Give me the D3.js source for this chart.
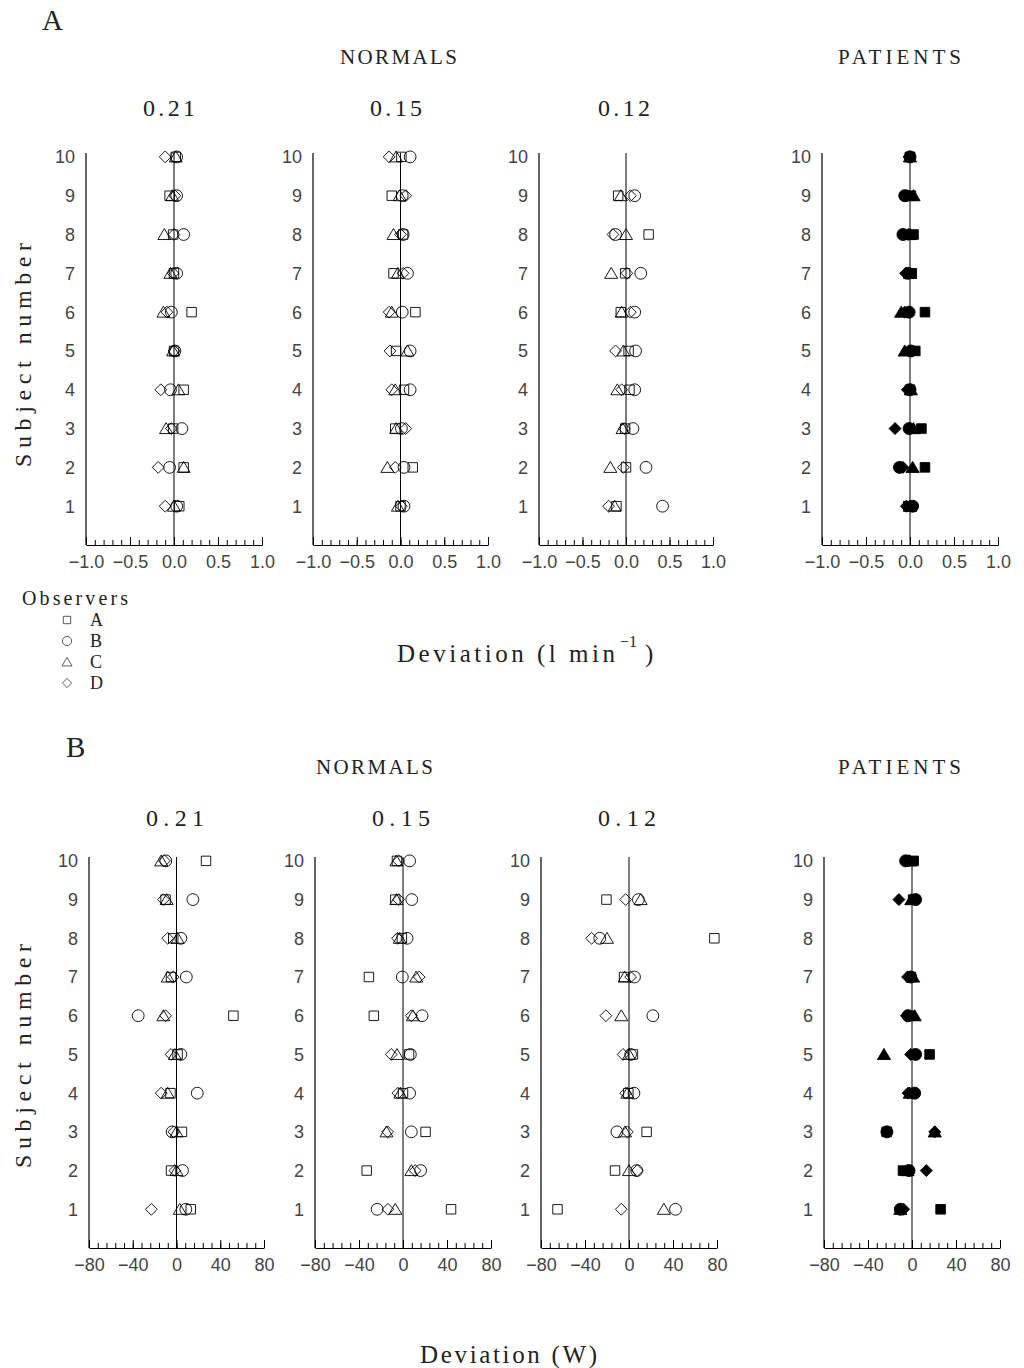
<!DOCTYPE html>
<html>
<head>
<meta charset="utf-8">
<script src="https://cdn.jsdelivr.net/npm/d3@7"></script>
<style>
  body { margin: 0; background: #fff; }
  .serif { font-family: "Liberation Serif", "DejaVu Serif", serif; fill: #222; }
  .tick text, .rowlab { font-family: "Liberation Sans", "DejaVu Sans", sans-serif; fill: #444; }
</style>
</head>
<body>
<div id="Chart"></div>
<script>
// subject 1..10, one value per subject (null = no point)
var subjects = [1, 2, 3, 4, 5, 6, 7, 8, 9, 10];
var observers = ["A", "B", "C", "D"];
var conditions = ["0.21", "0.15", "0.12"];

// panel A : deviation (l/min)
var a21_A = [0.06, 0.11, -0.01, 0.11, 0.00, 0.20, 0.00, -0.01, -0.05, 0.02];
var a21_B = [0.03, -0.05, 0.09, -0.04, 0.01, -0.03, 0.03, 0.11, 0.03, 0.03];
var a21_C = [0.00, 0.11, -0.09, 0.05, -0.01, -0.12, -0.04, -0.11, -0.02, 0.02];
var a21_D = [-0.10, -0.18, -0.03, -0.15, 0.00, -0.08, -0.01, 0.00, 0.01, -0.10];

var a15_A = [0.00, 0.14, -0.06, 0.04, -0.05, 0.17, -0.08, 0.03, -0.10, 0.01];
var a15_B = [0.04, 0.04, 0.01, 0.11, 0.11, 0.02, 0.08, 0.03, 0.02, 0.11];
var a15_C = [-0.03, -0.15, -0.05, -0.06, 0.08, -0.10, -0.03, -0.08, -0.01, -0.05];
var a15_D = [0.01, -0.06, 0.06, -0.10, -0.12, -0.13, 0.03, 0.00, 0.06, -0.13];

var a12_A = [-0.11, 0.00, -0.01, 0.04, 0.03, -0.06, -0.01, 0.26, -0.09, null];
var a12_B = [0.42, 0.23, 0.08, 0.10, 0.11, 0.10, 0.17, -0.12, 0.10, null];
var a12_C = [-0.13, -0.18, -0.04, -0.10, -0.03, -0.05, -0.17, 0.00, -0.06, null];
var a12_D = [-0.20, -0.03, -0.02, -0.05, -0.12, 0.05, 0.01, -0.15, 0.05, null];

var aPt_A = [-0.02, 0.17, 0.13, 0.00, 0.06, 0.17, 0.02, 0.04, 0.01, 0.00];
var aPt_B = [0.03, -0.12, -0.01, 0.00, 0.01, -0.01, -0.02, -0.08, -0.06, 0.00];
var aPt_C = [0.00, 0.03, 0.04, 0.01, -0.06, -0.10, 0.00, 0.00, 0.04, 0.00];
var aPt_D = [-0.04, -0.08, -0.17, -0.03, -0.01, -0.06, -0.05, -0.02, -0.03, -0.01];

// panel B : deviation (W)
var b21_A = [13, -5, 5, -5.5, 1, 52, -5, -3, -10, 27];
var b21_B = [8.5, 5.5, -4, 19, 4, -35, 9, 4, 15, -9.8];
var b21_C = [3, 0, 0, -8, -1.5, -12, -8, 1, -9, -14];
var b21_D = [-23, -1.5, -2.5, -14, -5, -10, -3, -8, -12, -11];

var b15_A = [43.7, -33, 20.5, 0, 5.5, -26.5, -31, -1, -7, -5.5];
var b15_B = [-23.5, 16, 7.6, 6, 6.7, 17.4, -0.6, 3.7, 8, 6];
var b15_C = [-7, 7.6, -15, -2.4, -5.5, 9, 12, -3, -6, -6];
var b15_D = [-13.7, 11, -14, -4.6, -10.7, 7.6, 14.7, -5, -4, -4];

var b12_A = [-65, -12.7, 16, -0.6, 3.6, null, -4.5, 77.6, -20.5, null];
var b12_B = [42.3, 7, -11, 4.5, 1.5, 21.7, 5, -26.6, 8.5, null];
var b12_C = [31.7, 0, -3.6, -1.5, 0, -7, -4, -20, 10.6, null];
var b12_D = [-7, 7.5, -1.5, -3, -5.4, -21, 1.5, -34, -3, null];

var bPt_A = [26, -8.2, -23, 1, 16, -2, -1, null, 1, 1.5];
var bPt_B = [-10.6, -2.7, -22.8, 2.4, 3.3, -3.6, -1.2, null, 3.3, -5.8];
var bPt_C = [-10.6, -4, 20.7, -2, -25.5, 2.4, 1, null, -0.6, -2];
var bPt_D = [-7.6, 13, 20.7, -3.6, -1.2, -5, -4, null, -11.9, -3];

var aTicks = [-1.0, -0.5, 0.0, 0.5, 1.0];
var bTicks = [-80, -40, 0, 40, 80];

var width = 1024, height = 1368;
var svg = d3.select("#Chart").append("svg")
            .attr("width", width)
            .attr("height", height);

// marker shapes, centred on 0,0
function shapePath(obs, s) {
    if (obs == "A") { var h = s * 0.8; return "M" + (-h) + "," + (-h) + "H" + h + "V" + h + "H" + (-h) + "Z"; }
    if (obs == "B") { return "M" + s + ",0A" + s + "," + s + " 0 1,1 " + (-s) + ",0A" + s + "," + s + " 0 1,1 " + s + ",0Z"; }
    if (obs == "C") { return "M0," + (-s) + "L" + (s * 1.1) + "," + (s * 0.85) + "L" + (-s * 1.1) + "," + (s * 0.85) + "Z"; }
    return "M0," + (-s) + "L" + s + ",0L0," + s + "L" + (-s) + ",0Z";
}

function draw_plot(cfg) {
    var g = svg.append("g");
    var x = d3.scaleLinear().domain(cfg.domain).range(cfg.xr);
    var y = d3.scaleLinear().domain([0, 10.1]).range(cfg.yr);

    // frame: left axis, bottom axis, zero line
    g.append("line").attr("x1", x(cfg.domain[0])).attr("x2", x(cfg.domain[0]))
        .attr("y1", y(10.1)).attr("y2", y(0)).attr("stroke", "#000").attr("stroke-width", 1.2);
    g.append("line").attr("x1", x(0)).attr("x2", x(0))
        .attr("y1", y(10.1)).attr("y2", y(0)).attr("stroke", "#000").attr("stroke-width", 1);

    var step = (cfg.domain[1] - cfg.domain[0]) / 20;
    var minor = d3.range(0, 21).map(i => cfg.domain[0] + i * step);
    g.append("g").attr("transform", "translate(0," + y(0) + ")")
        .call(d3.axisTop(x).tickValues(minor).tickSize(5).tickFormat(""))
        .call(a => a.select(".domain").remove())
        .selectAll("line").attr("stroke", "#000");
    var ax = g.append("g").attr("transform", "translate(0," + y(0) + ")")
        .call(d3.axisBottom(x).tickValues(cfg.ticks).tickSizeOuter(0).tickSizeInner(0).tickPadding(10)
              .tickFormat(d => (d < 0 ? "\u2212" : "") + cfg.fmt(Math.abs(d))));
    ax.select(".domain").attr("stroke", "#000").attr("stroke-width", 1.2);
    ax.selectAll(".tick line").remove();
    ax.selectAll(".tick text").attr("font-size", 18).attr("font-family", null);
    g.append("g").attr("transform", "translate(0," + y(0) + ")")
        .call(d3.axisTop(x).tickValues(cfg.ticks).tickSize(8).tickFormat(""))
        .call(a => a.select(".domain").remove())
        .selectAll("line").attr("stroke", "#000");

    // subject numbers
    g.selectAll(".rowlab").data(subjects).enter().append("text")
        .attr("class", "rowlab")
        .attr("x", x(cfg.domain[0]) - 11)
        .attr("y", d => y(d))
        .attr("dy", "0.36em")
        .attr("text-anchor", "end")
        .attr("font-size", 18)
        .text(d => d);

    observers.forEach(function(obs, k) {
        var pts = cfg.series[k].map((v, i) => ({s: subjects[i], v: v})).filter(d => d.v != null);
        g.selectAll(".m" + obs).data(pts).enter().append("path")
            .attr("class", "m" + obs)
            .attr("transform", d => "translate(" + x(d.v) + "," + y(d.s) + ")")
            .attr("d", shapePath(obs, cfg.filled ? 6 : 5.9))
            .attr("fill", cfg.filled ? "#000" : "none")
            .attr("stroke", "#000")
            .attr("stroke-width", 0.9);
    });
}

var fmtA = d3.format(".1f"), fmtB = d3.format("d");
var aSeries = [[a21_A, a21_B, a21_C, a21_D], [a15_A, a15_B, a15_C, a15_D], [a12_A, a12_B, a12_C, a12_D], [aPt_A, aPt_B, aPt_C, aPt_D]];
var bSeries = [[b21_A, b21_B, b21_C, b21_D], [b15_A, b15_B, b15_C, b15_D], [b12_A, b12_B, b12_C, b12_D], [bPt_A, bPt_B, bPt_C, bPt_D]];
var aX = [[86, 262], [313, 488], [539, 713], [822, 998]];
var bX = [[89, 264], [315, 491], [541, 717], [824, 1000]];

aSeries.forEach((s, i) => draw_plot({domain: [-1, 1], ticks: aTicks, fmt: fmtA, xr: aX[i], yr: [545, 153], series: s, filled: i == 3}));
bSeries.forEach((s, i) => draw_plot({domain: [-80, 80], ticks: bTicks, fmt: fmtB, xr: bX[i], yr: [1248, 857], series: s, filled: i == 3}));

// titles and labels
function txt(t, x, y, size, len, anchor) {
    var e = svg.append("text").attr("class", "serif").attr("x", x).attr("y", y)
        .attr("font-size", size).attr("text-anchor", anchor || "start").text(t);
    if (len) e.attr("textLength", len).attr("lengthAdjust", "spacing");
    return e;
}
txt("A", 42, 30, 29);
txt("B", 66, 757, 29);
txt("NORMALS", 340, 64, 21, 117);
txt("PATIENTS", 838, 64, 21, 123);
txt("NORMALS", 316, 774, 21, 117);
txt("PATIENTS", 838, 774, 21, 123);
var condX_A = [143, 370, 598], condX_B = [146, 372, 598];
conditions.forEach(function(c, i) {
    txt(c, condX_A[i], 116, 24, 52);
    txt(c, condX_B[i], 826, 24, 58);
});
txt("Subject number", 0, 0, 24, 224, "middle").attr("transform", "translate(31,355) rotate(-90)");
txt("Subject number", 0, 0, 24, 224, "middle").attr("transform", "translate(31,1056) rotate(-90)");

txt("Deviation (l min", 397, 662, 25, 218);
txt("\u22121", 620, 647, 16);
txt(")", 645, 662, 25);
txt("Deviation (W)", 420, 1363, 25, 177);

// legend
txt("Observers", 22, 605, 20, 106);
var legY = [620, 641, 662, 683];
observers.forEach(function(obs, i) {
    svg.append("path")
        .attr("transform", "translate(67," + legY[i] + ")")
        .attr("d", shapePath(obs, 4.6))
        .attr("fill", "none").attr("stroke", "#333").attr("stroke-width", 0.8);
    txt(obs, 90, legY[i] + 6, 18);
});
</script>
</body>
</html>
